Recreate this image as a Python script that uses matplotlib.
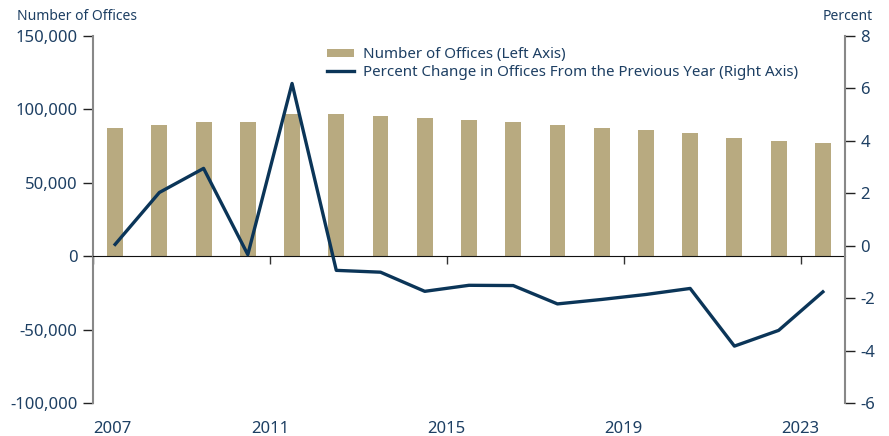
import numpy as np
import matplotlib
matplotlib.use("Agg")
import matplotlib.pyplot as plt
from matplotlib.ticker import StrMethodFormatter

# Dados
anos = list(range(2007, 2024))
escritorios = [87600, 89600, 91600, 91600, 97100, 97100, 95700, 94400, 93000,
               91600, 89600, 87600, 86200, 84200, 80800, 78800, 77400]
variacao_pct = [0.05, 2.03, 2.95, -0.34, 6.19, -0.94, -1.01, -1.74, -1.51,
                -1.52, -2.22, -2.05, -1.86, -1.63, -3.83, -3.23, -1.76]
rotulos_x = ["2007", "2011", "2015", "2019", "2023"]

cor_barra = "#b8aa80"
cor_linha = "#0b3558"
cor_texto = "#1d3f63"

plt.rcParams["font.family"] = ["Noto Sans", "DejaVu Sans"]
plt.rcParams["axes.unicode_minus"] = False

fig = plt.figure(figsize=(8.89, 4.36), dpi=100)
ax1 = fig.add_axes([0.1046, 0.0757, 0.8459, 0.8417])
x = np.arange(len(anos))

ax1.bar(x, escritorios, width=0.36, color=cor_barra, zorder=2,
        label="Number of Offices (Left Axis)")
ax1.set_xlim(-0.5, len(anos) - 0.5)
ax1.set_ylim(-100000, 150000)
ax1.set_yticks(np.arange(-100000, 150001, 50000))
ax1.yaxis.set_major_formatter(StrMethodFormatter("{x:,.0f}"))
ax1.tick_params(axis="y", direction="out", length=7, width=1, color="#222222",
                labelsize=12, labelcolor=cor_texto, pad=4)

# eixo x: linha no zero, marcas nas fronteiras entre anos
ax1.spines["bottom"].set_position(("data", 0))
ax1.spines["bottom"].set_color("#111111")
ax1.spines["bottom"].set_zorder(3)
ax1.spines["top"].set_visible(False)
ax1.spines["right"].set_visible(False)
ax1.spines["left"].set_color("#888888")
ax1.spines["left"].set_linewidth(1.5)
ticks_x = [anos.index(int(r)) - 0.5 for r in rotulos_x]
ax1.set_xticks(ticks_x)
ax1.set_xticklabels([])
ax1.tick_params(axis="x", direction="out", length=6, width=1, color="#333333")
trans = ax1.get_xaxis_transform()
for t, r in zip(ticks_x, rotulos_x):
    ha = "left" if t < 0 else "center"
    ax1.text(t, -0.05, r, transform=trans, ha=ha, va="top",
             fontsize=12, color=cor_texto)

ax2 = ax1.twinx()
ax2.plot(x, variacao_pct, color=cor_linha, linewidth=2.4, zorder=4,
         label="Percent Change in Offices From the Previous Year (Right Axis)")
ax2.set_ylim(-6, 8)
ax2.set_yticks(np.arange(-6, 9, 2))
ax2.tick_params(axis="y", direction="out", length=7, width=1, color="#222222",
                labelsize=12, labelcolor=cor_texto, pad=4)
for lado in ["top", "left", "bottom"]:
    ax2.spines[lado].set_visible(False)
ax2.spines["right"].set_color("#888888")
ax2.spines["right"].set_linewidth(1.5)

fig.text(17 / 889, 1 - 17 / 436, "Number of Offices", fontsize=10,
         color=cor_texto, ha="left", va="center")
fig.text(873 / 889, 1 - 17 / 436, "Percent", fontsize=10,
         color=cor_texto, ha="right", va="center")

h1, l1 = ax1.get_legend_handles_labels()
h2, l2 = ax2.get_legend_handles_labels()
fig.legend(h1 + h2, l1 + l2, loc="upper left",
           bbox_to_anchor=(327 / 889, 1 - 47 / 436), frameon=False,
           fontsize=10.9, labelcolor=cor_texto, handlelength=1.8,
           handleheight=0.45, handletextpad=0.6, labelspacing=0.2,
           borderaxespad=0, borderpad=0)

fig.savefig("out.png", dpi=100)
